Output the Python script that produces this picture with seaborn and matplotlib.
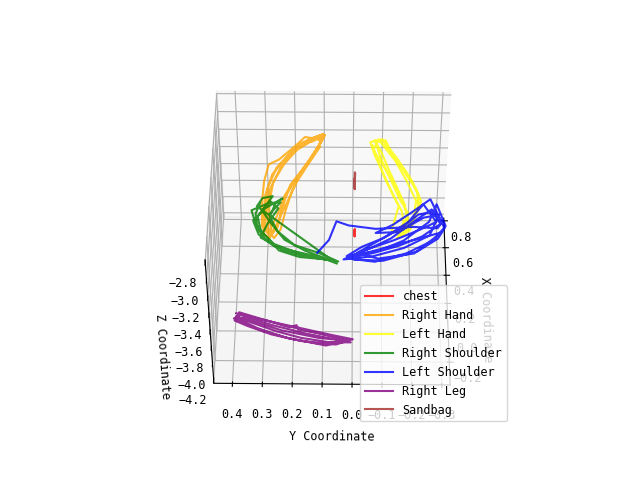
import numpy as np
import matplotlib
matplotlib.use("Agg")
import matplotlib.pyplot as plt
import seaborn as sns

# joint trajectories (x, y per sample, one depth per joint)
chest_x = [0.14, 0.10, 0.145, 0.095, 0.12, 0.14]
chest_y = [-0.005, -0.004, -0.006, -0.005, -0.004, -0.005]
chest_z = -3.26

rhand_x = [0.631, 0.581, 0.473, 0.352, 0.209, 0.066, -0.055, -0.084, 0.016, 0.138, 0.281, 0.423, 0.623,
           0.616, 0.531, 0.402, 0.245, 0.102, -0.027, -0.084, -0.027, 0.102, 0.245, 0.373, 0.495, 0.602,
           0.623, 0.566, 0.459, 0.423, 0.302, 0.138, -0.005, -0.055, 0.066, 0.209, 0.352, 0.531, 0.638,
           0.588, 0.602,
           0.645, 0.602, 0.516, 0.402, 0.259, 0.116, -0.012, -0.069, -0.012, 0.088, 0.202, 0.316, 0.459,
           0.588, 0.623, 0.559, 0.438, 0.295, 0.152, 0.031, -0.048, 0.045, 0.173, 0.302, 0.416, 0.552]
rhand_y = [0.113, 0.173, 0.224, 0.268, 0.288, 0.291, 0.288, 0.268, 0.241, 0.231, 0.207, 0.156, 0.099,
           0.123, 0.187, 0.241, 0.274, 0.281, 0.274, 0.254, 0.234, 0.220, 0.200, 0.173, 0.133, 0.106,
           0.163, 0.190, 0.247, 0.281, 0.294, 0.298, 0.294, 0.274, 0.247, 0.224, 0.180, 0.123, 0.096,
           0.140, 0.153,
           0.102, 0.153, 0.207, 0.254, 0.281, 0.287, 0.284, 0.267, 0.244, 0.234, 0.220, 0.193, 0.146,
           0.109, 0.129, 0.180, 0.227, 0.264, 0.274, 0.271, 0.260, 0.240, 0.213, 0.186, 0.153, 0.112]
rhand_z = -2.98

lhand_x = [0.566, 0.459, 0.331, 0.209, 0.102, -0.005, -0.077, -0.027, 0.102, 0.209, 0.316, 0.423, 0.545,
           0.609, 0.588, 0.495, 0.373, 0.245, 0.138, -0.027, -0.055, 0.066, 0.173, 0.281, 0.388, 0.495,
           0.602, 0.595, 0.473, 0.331, 0.188, 0.088, -0.041, 0.016, 0.173, 0.316, 0.459, 0.588,
           0.602, 0.516, 0.388, 0.259, 0.145, 0.031, -0.055, -0.012, 0.138, 0.245, 0.352, 0.473,
           0.588, 0.609, 0.531, 0.402, 0.273, 0.159, 0.059, -0.012]
lhand_y = [-0.063, -0.080, -0.103, -0.130, -0.157, -0.164, -0.140, -0.181, -0.208, -0.214, -0.191, -0.157, -0.113,
           -0.096, -0.056, -0.070, -0.096, -0.123, -0.147, -0.123, -0.164, -0.197, -0.221, -0.197, -0.164, -0.130,
           -0.107, -0.073, -0.090, -0.120, -0.150, -0.177, -0.157, -0.191, -0.204, -0.174, -0.137, -0.090,
           -0.070, -0.093, -0.117, -0.144, -0.167, -0.177, -0.154, -0.184, -0.211, -0.208, -0.181, -0.144,
           -0.103, -0.083, -0.066, -0.103, -0.137, -0.164, -0.174, -0.150]
lhand_z = -2.98

rshoulder_x = [0.255, 0.183, 0.090, 0.005, -0.067, -0.110, -0.138, -0.081, -0.031, 0.062, 0.162, 0.255,
               0.290, 0.219, 0.133, 0.040, -0.038, -0.095, -0.131, -0.067, 0.005, 0.112, 0.205, 0.269,
               0.219, 0.112, 0.019, -0.052, -0.110, -0.152,
               0.233, 0.290, 0.305, 0.162, 0.062, -0.024, -0.081, -0.124, -0.110, -0.067, 0.033, 0.119,
               0.205, 0.255, 0.262, 0.183]
rshoulder_y = [0.308, 0.321, 0.314, 0.287, 0.223, 0.139, 0.048, 0.112, 0.190, 0.247, 0.274, 0.257,
               0.234, 0.291, 0.328, 0.308, 0.257, 0.173, 0.072, 0.156, 0.223, 0.267, 0.301, 0.274,
               0.247, 0.281, 0.301, 0.234, 0.106, 0.052,
               0.318, 0.301, 0.267, 0.314, 0.301, 0.257, 0.180, 0.089, 0.173, 0.240, 0.287, 0.321,
               0.335, 0.281, 0.240, 0.274]
rshoulder_z = -3.15

lshoulder_x = [-0.081, 0.005, 0.133, 0.105, 0.083, 0.098, 0.090, 0.133, 0.205, 0.183, 0.090, 0.019,
               -0.038, -0.102, -0.124, -0.131, -0.067, 0.019, 0.090, 0.290, 0.205, 0.112, 0.055, 0.062,
               0.162, 0.183, 0.040, -0.045, -0.102, -0.124, -0.067, 0.005, 0.076, 0.133, 0.255, 0.133,
               0.040, -0.081, -0.117, -0.081, 0.062,
               -0.110, -0.081, -0.031, 0.033, 0.119, 0.219, 0.133, 0.019, -0.067, -0.117, -0.138, -0.081,
               0.005, 0.105, 0.255, 0.133, 0.005, -0.067, -0.095]
lshoulder_y = [0.116, 0.079, 0.055, 0.015, -0.073, -0.197, -0.275, -0.292, -0.265, -0.214, -0.157, -0.096,
               -0.029, 0.021, -0.002, -0.096, -0.208, -0.275, -0.298, -0.255, -0.197, -0.130, -0.073, -0.147,
               -0.231, -0.282, -0.248, -0.164, -0.063, 0.031, -0.029, -0.130, -0.214, -0.272, -0.231, -0.181,
               -0.113, -0.012, -0.080, -0.197, -0.288,
               0.011, -0.063, -0.147, -0.224, -0.285, -0.258, -0.197, -0.123, -0.036, 0.018, -0.070, -0.171,
               -0.258, -0.302, -0.275, -0.248, -0.164, -0.080, 0.005]
lshoulder_z = -3.15

rleg_x = [0.084, 0.055, 0.019, -0.016, -0.059, -0.088, -0.109, -0.116, -0.088, -0.038, 0.019, 0.048,
          0.076, 0.034, -0.009, 0.005, -0.024, -0.052, -0.095, -0.124, -0.102, -0.059, -0.002, 0.034,
          0.062, 0.005, -0.052, -0.102, -0.131, -0.081, -0.016, 0.048,
          0.091, 0.048, 0.005, -0.038, -0.081, -0.109, -0.109, -0.081, -0.038, 0.019, 0.062, 0.041,
          -0.031, -0.081, -0.095]
rleg_y = [0.398, 0.341, 0.257, 0.173, 0.072, -0.002, 0.038, 0.122, 0.207, 0.301, 0.375, 0.405,
          0.382, 0.291, 0.213, 0.190, 0.183, 0.106, 0.011, 0.055, 0.173, 0.274, 0.358, 0.402,
          0.368, 0.274, 0.156, 0.021, 0.089, 0.223, 0.324, 0.392,
          0.388, 0.314, 0.234, 0.139, 0.038, 0.005, 0.079, 0.173, 0.257, 0.341, 0.398, 0.358,
          0.240, 0.112, 0.031]
rleg_z = -4.18

sandbag_x = [0.545, 0.43, 0.54, 0.425, 0.50, 0.44]
sandbag_y = [-0.005, -0.004, -0.006, -0.005, -0.004, -0.005]
sandbag_z = -3.26

joints = ["chest", "Right Hand", "Left Hand", "Right Shoulder", "Left Shoulder", "Right Leg", "Sandbag"]
colors = ["red", "orange", "yellow", "green", "blue", "purple", "brown"]
tracks = [(chest_x, chest_y, chest_z), (rhand_x, rhand_y, rhand_z), (lhand_x, lhand_y, lhand_z),
          (rshoulder_x, rshoulder_y, rshoulder_z), (lshoulder_x, lshoulder_y, lshoulder_z),
          (rleg_x, rleg_y, rleg_z), (sandbag_x, sandbag_y, sandbag_z)]

sns.set_palette(colors)
plt.rcParams['font.family'] = ['DejaVu Sans Mono', 'DejaVu Sans']
plt.rcParams['font.size'] = 8.5

fig = plt.figure(figsize=(6.4, 4.8), dpi=100)
ax = fig.add_subplot(111, projection='3d')
for name, (xs, ys, z) in zip(joints, tracks):
    ax.plot(xs, ys, [z] * len(xs), label=name, alpha=0.8)

ax.set_xlim(-0.35, 0.82)
ax.set_ylim(-0.328, 0.462)
ax.set_zlim(-4.25, -2.77)
ax.set_xlabel('X Coordinate')
ax.set_ylabel('Y Coordinate')
ax.set_zlabel('Z Coordinate')
ax.set_box_aspect((3.798, 3.965, 3.141), zoom=0.987)
ax.view_init(elev=48, azim=180.5)
ax.legend(loc='lower right', handlelength=2.4)
plt.savefig('out.png')
